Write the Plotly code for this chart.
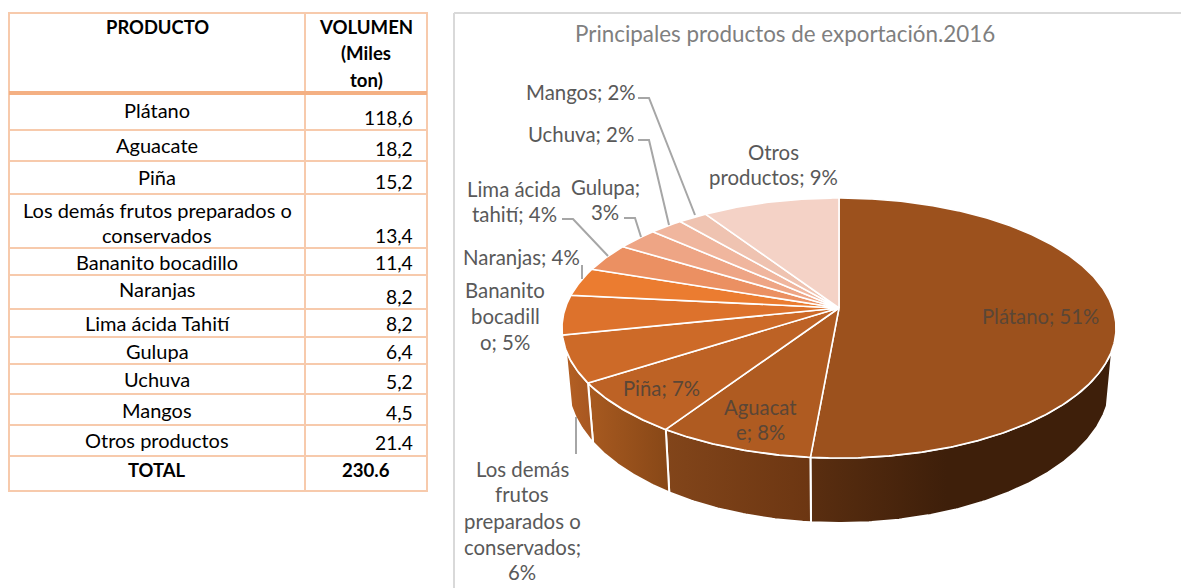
import math
import plotly.graph_objects as go

# ---------- data ----------
products = ["Plátano", "Aguacate", "Piña", "Los demás frutos preparados o conservados",
            "Bananito bocadillo", "Naranjas", "Lima ácida Tahití", "Gulupa", "Uchuva",
            "Mangos", "Otros productos"]
values = [118.6, 18.2, 15.2, 13.4, 11.4, 8.2, 8.2, 6.4, 5.2, 4.5, 21.4]
value_labels = ["118,6", "18,2", "15,2", "13,4", "11,4", "8,2", "8,2", "6,4", "5,2", "4,5", "21.4"]
total_label = "230.6"
title = "Principales productos de exportación.2016"

# ---------- styles ----------
top_colors = ["#9C511D", "#AF5B21", "#BD6225", "#CD6A28", "#DD722C", "#EB7C30",
              "#EB9062", "#EEA585", "#F0B69E", "#EFC3B1", "#F4D2C6"]
wall_gradients = {0: [[0, "#5A2E10"], [0.45, "#3E1F0A"], [1, "#3E1F0A"]],
                  1: [[0, "#82451A"], [1, "#6C3612"]],
                  2: [[0, "#A85A20"], [1, "#874717"]],
                  3: [[0, "#B46024"], [1, "#A65620"]]}
FONT = "Lato"
TABLE_LINE, TABLE_HEAD = "#F7CAAC", "#F4B083"
LABEL, LEADER = "#595959", "#A6A6A6"

# ---------- pie projection (perspective view of the disc) ----------
CX, CY, A, B, P = 839.0, 308.0, 273.7, 126.9, 0.154
WALL_FROM, WALL_TO = 108.0, 252.0

def rim(theta):
    t = math.radians(theta)
    u, v = math.sin(t), math.cos(t)
    w = 1 + P * v
    return CX + A * u / w, CY - B * v / w

def floor(theta):
    x, y = rim(theta)
    return CX + (x - CX) * 0.98, y + 57 + (y - 350) * 0.075

def arc(a, b, fn):
    n = max(2, int(abs(b - a) * 2))
    return [fn(a + (b - a) * i / n) for i in range(n + 1)]

fig = go.Figure()
total = sum(values)
angles = [0.0]
for v in values:
    angles.append(angles[-1] + 360.0 * v / total)

# walls
for i, scale in wall_gradients.items():
    a, b = max(angles[i], WALL_FROM), min(angles[i + 1], WALL_TO)
    pts = arc(a, b, rim) + arc(b, a, floor)
    pts.append(pts[0])
    fig.add_trace(go.Scatter(
        x=[p[0] for p in pts], y=[p[1] for p in pts], mode="lines", fill="toself",
        line=dict(color="white", width=2), hoverinfo="skip", showlegend=False,
        fillgradient=dict(type="horizontal", colorscale=scale)))

# top slices
for i, name in enumerate(products):
    pts = [(CX, CY)] + arc(angles[i], angles[i + 1], rim) + [(CX, CY)]
    fig.add_trace(go.Scatter(
        x=[p[0] for p in pts], y=[p[1] for p in pts], mode="lines", fill="toself",
        fillcolor=top_colors[i], line=dict(color="white", width=1.6),
        name=name, hoverinfo="name", showlegend=False))

# leader lines
leaders = [
    [(638, 98), (649, 98), (695, 215)],
    [(638, 140), (649, 140), (669, 225)],
    [(562, 219), (573, 219), (608, 256)],
    [(624, 218), (635, 218), (641, 237)],
    [(582, 265), (582, 279)],
    [(576, 417), (576, 454)],
]
for l in leaders:
    fig.add_trace(go.Scatter(x=[p[0] for p in l], y=[p[1] for p in l], mode="lines",
                             line=dict(color=LEADER, width=2), hoverinfo="skip", showlegend=False))

annotations = []
def text(s, x, y, size=20, color="black", anchor="center", bold=False):
    annotations.append(dict(
        x=x, y=y, xref="x", yref="y", text=f"<b>{s}</b>" if bold else s, showarrow=False,
        xanchor=anchor, yanchor="middle", font=dict(family=FONT, size=size, color=color)))

# title + chart labels
text(title, 785, 33, size=22.4, color="#7F7F7F")
chart_labels = [
    ("Mangos; 2%", 581, 92), ("Uchuva; 2%", 581, 134),
    ("Lima ácida", 514, 189), ("tahití; 4%", 514, 214),
    ("Gulupa;", 605, 187), ("3%", 605, 212),
    ("Otros", 773, 152), ("productos; 9%", 773, 177),
    ("Naranjas; 4%", 521, 257),
    ("Bananito", 505, 290), ("bocadill", 505, 316), ("o; 5%", 505, 342),
    ("Los demás", 522, 469), ("frutos", 522, 494), ("preparados o", 522, 521),
    ("conservados;", 522, 547), ("6%", 522, 572),
]
for s, x, y in chart_labels:
    text(s, x, y, size=20.4, color=LABEL)
for s, x, y in [("Piña; 7%", 661, 388), ("Aguacat", 760, 407), ("e; 8%", 760, 432), ("Plátano; 51%", 1040, 316)]:
    text(s, x, y, size=20.3, color="#5A4636")

# table text
NAME_X, VAL_X = 157, 415
text("PRODUCTO", NAME_X, 27, size=18.4, bold=True)
for s, y in [("VOLUMEN", 27), ("(Miles", 53), ("ton)", 80)]:
    text(s, 366, y, size=18.6, bold=True)
name_y = [110, 145, 177, None, 262, 289, 323, 351, 379, 410, 440]
val_y = [117, 148, 181, 235, 262, 296, 323, 351, 381, 412, 442]
for i, name in enumerate(products):
    if name_y[i] is None:
        text("Los demás frutos preparados o", NAME_X, 210)
        text("conservados", NAME_X, 235)
    else:
        text(name, NAME_X, name_y[i])
    text(value_labels[i], VAL_X, val_y[i], size=19.2, anchor="right")
text("TOTAL", NAME_X, 470, size=18.4, bold=True)
text(total_label, 366, 470, size=18.6, bold=True)

# table rules
X0, XM, X1, Y0, Y1 = 9, 305, 427, 13, 491
rows = [13, 130, 161, 194, 248, 275, 309, 337, 364, 394, 425, 456, 491]
shapes = []
def rule(x0, y0, x1, y1, color=TABLE_LINE, width=2):
    shapes.append(dict(type="line", xref="x", yref="y", x0=x0, y0=y0, x1=x1, y1=y1,
                       line=dict(color=color, width=width), layer="below"))
for y in rows:
    rule(X0 - 1, y, X1 + 1, y)
rule(X0, Y0, X0, Y1); rule(XM, Y0, XM, Y1); rule(X1, Y0, X1, Y1)
rule(X0, 93, X1, 93, TABLE_HEAD, 4)
# chart frame
rule(454, 13, 1181, 13, "#D9D9D9", 2)
rule(454, 13, 454, 588, "#D9D9D9", 2)

fig.update_layout(
    width=1181, height=588, margin=dict(l=0, r=0, t=0, b=0),
    paper_bgcolor="white", plot_bgcolor="white", showlegend=False,
    xaxis=dict(range=[0, 1181], visible=False, domain=[0, 1], fixedrange=True),
    yaxis=dict(range=[588, 0], visible=False, domain=[0, 1], fixedrange=True),
    annotations=annotations, shapes=shapes)

fig.write_html("out.html", config={"displayModeBar": False},
               post_script="document.body.style.margin='0';document.body.style.overflow='hidden';")
